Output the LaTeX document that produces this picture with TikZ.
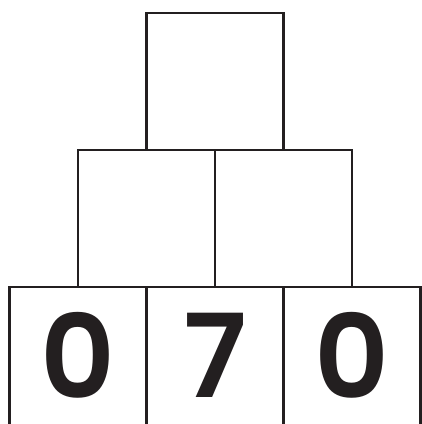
\documentclass[tikz,border=0pt]{standalone}
\usepackage{fontspec}
\newfontfamily\digitfont{Poppins}[UprightFont={* SemiBold}]
\definecolor{ink}{HTML}{231F20}
\begin{document}
\begin{tikzpicture}[x=1pt,y=-1pt,
  cell/.style={draw=ink,line width=2.4pt,minimum width=137pt,minimum height=137pt,inner sep=0pt,outer sep=0pt},
  opencell/.style={minimum width=137pt,minimum height=120pt,inner sep=0pt,outer sep=0pt,text=ink,
    font=\digitfont\fontsize{116}{116}\selectfont},
  edge/.style={draw=ink,line width=2.4pt,line join=miter}]
\useasboundingbox (0,0) rectangle (422,424);
\node[cell] (t) at (215,81.5) {};
\node[cell] (m1) at (146.5,218.5) {};
\node[cell] (m2) at (283.5,218.5) {};
\node[opencell] (b1) at (78,355.5) {0};
\node[opencell] (b2) at (215,355.5) {7};
\node[opencell] (b3) at (352,355.5) {0};
\coordinate (b1top) at (9.5,287);
\coordinate (b1bot) at (9.5,424);
\coordinate (b3top) at (420.5,287);
\coordinate (b3bot) at (420.5,424);
\coordinate (d1top) at (146.5,287);
\coordinate (d1bot) at (146.5,424);
\coordinate (d2top) at (283.5,287);
\coordinate (d2bot) at (283.5,424);
\draw[edge] (b1bot) -- (b1top) -- (b3top) -- (b3bot);
\draw[edge] (d1top) -- (d1bot);
\draw[edge] (d2top) -- (d2bot);
\end{tikzpicture}
\end{document}
